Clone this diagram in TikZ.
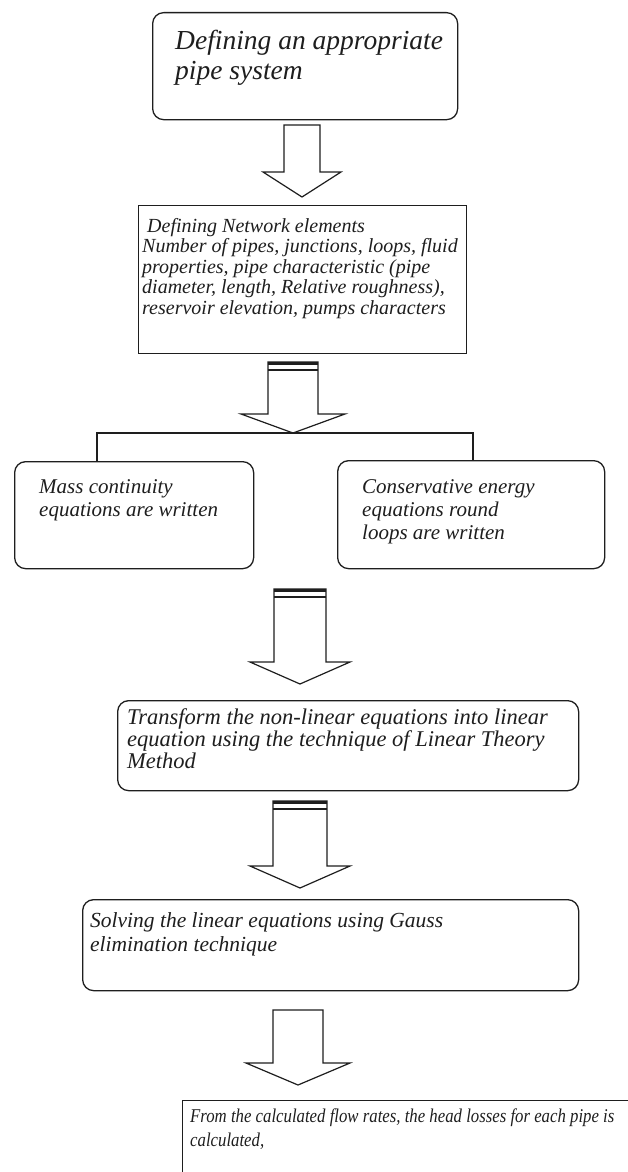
\documentclass[tikz,border=0pt]{standalone}
\usepackage{fontspec}
\setmainfont{Liberation Serif}
\definecolor{ink}{HTML}{1E1E1E}

% block arrow: centre x, top, shaft half-width, head base, head half-width, tip y, tip name
\newcommand{\blkarrow}[7]{%
  \draw[blk] ({#1-#3},#2) -- ({#1+#3},#2) -- ({#1+#3},#4) -- ({#1+#5},#4)
    -- (#1,#6) -- ({#1-#5},#4) -- ({#1-#3},#4) -- cycle;
  \coordinate (#7) at (#1,#6);}
% double bar across the top of a shaft
\newcommand{\topbars}[3]{%
  \draw[ink, line width=3pt] ({#1-#3},{#2+1.5}) -- ({#1+#3},{#2+1.5});
  \draw[ink, line width=1.6pt] ({#1-#3},{#2+8}) -- ({#1+#3},{#2+8});}
% left-aligned text block whose anchor is the first baseline
\newcommand{\txtblock}[3]{\parbox[t]{520pt}{\raggedright\fontsize{#1}{#2}\selectfont\itshape #3}}

\begin{document}
\begin{tikzpicture}[x=1pt, y=-1pt, line join=miter,
  box/.style={draw=ink, line width=1.3pt, inner sep=0pt, anchor=north west},
  rbox/.style={box, rounded corners=11pt},
  lbl/.style={anchor=base west, inner sep=0pt, text=ink},
  blk/.style={draw=ink, line width=1.2pt, fill=white},
  link/.style={draw=ink, line width=1.2pt}]
\useasboundingbox[fill=white] (0,0) rectangle (628,1172);

% boxes
\node[rbox, minimum width=305pt, minimum height=107pt] (sys) at (152,12) {};
\node[box,  minimum width=328pt, minimum height=148pt] (net) at (138,205) {};
\node[rbox, minimum width=239pt, minimum height=107pt] (mass) at (14,461) {};
\node[rbox, minimum width=267pt, minimum height=108pt] (energy) at (337,460) {};
\node[rbox, minimum width=461pt, minimum height=90pt] (lin) at (117,700) {};
\node[rbox, minimum width=496pt, minimum height=91pt] (gauss) at (82,899) {};
\node[box,  minimum width=470pt, minimum height=110pt] (head) at (182,1100) {};

% texts
\node[lbl] (systxt) at (175,50) {\txtblock{27.5}{29.5}{Defining an appropriate\\pipe system}};
\node[lbl] (nettxt) at (142,232) {\txtblock{20}{20.5}{\hspace*{5pt}Defining Network elements\\
  Number of pipes, junctions, loops, fluid\\
  properties, pipe characteristic (pipe\\
  diameter, length, Relative roughness),\\
  reservoir elevation, pumps characters}};
\node[lbl] (masstxt) at (39,493) {\txtblock{21}{23}{Mass continuity\\equations are written}};
\node[lbl] (energytxt) at (362,493) {\txtblock{21}{23}{Conservative energy\\equations round\\loops are written}};
\node[lbl] (lintxt) at (127,724) {\txtblock{22.5}{22}{Transform the non-linear equations into linear\\
  equation using the technique of Linear Theory\\Method}};
\node[lbl] (gausstxt) at (90,927) {\txtblock{21.5}{24}{Solving the linear equations using Gauss\\elimination technique}};
\node[lbl] (headtxt) at (190,1122) {\scalebox{0.86}[1]{\txtblock{19.5}{24}{From the calculated flow rates, the head losses for each pipe is\\calculated,}}};

% block arrows between the stages
\blkarrow{302}{125}{18}{172}{39}{197}{a1}
\blkarrow{293}{362}{25}{414}{52}{433}{a2}
\topbars{293}{362}{25}
\blkarrow{300}{589}{26}{662}{50}{684}{a3}
\topbars{300}{589}{26}
\blkarrow{300}{801}{27}{866}{50}{888}{a4}
\topbars{300}{801}{27}
\blkarrow{298}{1010}{25}{1063}{52}{1085}{a5}

% branch to the two equation sets
\coordinate (dropL) at (mass.north west -| 97,0);
\coordinate (dropR) at (energy.north west -| 473,0);
\draw[link] (dropL) |- (a2) -| (dropR);
\end{tikzpicture}
\end{document}
